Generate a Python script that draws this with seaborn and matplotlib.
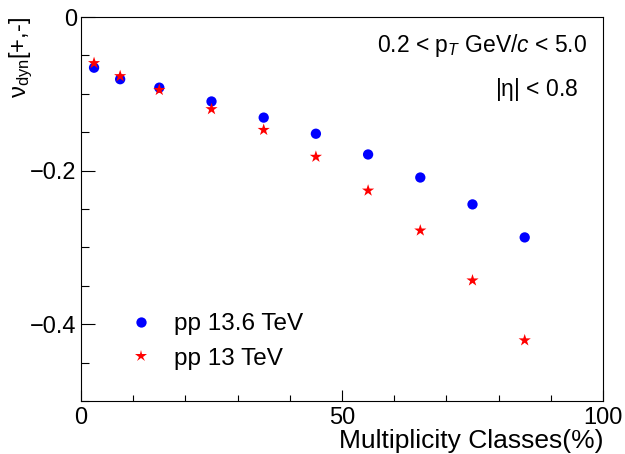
import numpy as np
import pandas as pd
import seaborn as sns
import matplotlib.pyplot as plt
from matplotlib.ticker import MultipleLocator

# multiplicity class centres (%) and nu_dyn[+,-] values
mult = [2.5, 7.5, 15, 25, 35, 45, 55, 65, 75, 85]
nu_pp136 = [-0.066, -0.081, -0.092, -0.110, -0.131, -0.152, -0.179, -0.209, -0.244, -0.287]
nu_pp13 = [-0.060, -0.077, -0.095, -0.120, -0.147, -0.182, -0.226, -0.278, -0.343, -0.421]
systems = ['pp 13.6 TeV', 'pp 13 TeV']

df = pd.concat([
    pd.DataFrame({'mult': mult, 'nu': nu_pp136, 'sys': systems[0]}),
    pd.DataFrame({'mult': mult, 'nu': nu_pp13, 'sys': systems[1]}),
])

sns.set_style("ticks")
plt.rcParams['font.family'] = ['Liberation Sans', 'DejaVu Sans']
plt.rcParams['mathtext.fontset'] = 'custom'
plt.rcParams['mathtext.rm'] = 'Liberation Sans'
plt.rcParams['mathtext.it'] = 'Liberation Sans:italic'
plt.rcParams['mathtext.default'] = 'regular'
plt.rcParams['text.color'] = 'black'
plt.rcParams['axes.labelcolor'] = 'black'

fig = plt.figure(figsize=(6.25, 4.54), dpi=100)
ax = fig.add_axes([81/625, 53/454, 522/625, 384/454])

sns.scatterplot(data=df, x='mult', y='nu', hue='sys', style='sys',
                palette={systems[0]: '#0000ff', systems[1]: '#ff0000'},
                markers={systems[0]: 'o', systems[1]: '*'},
                size='sys', sizes={systems[0]: 55, systems[1]: 85},
                edgecolor='none', linewidth=0, ax=ax)

ax.set_xlim(0, 100)
ax.set_ylim(-0.5, 0)
ax.xaxis.set_major_locator(MultipleLocator(50))
ax.xaxis.set_minor_locator(MultipleLocator(10))
ax.yaxis.set_major_locator(MultipleLocator(0.2))
ax.yaxis.set_minor_locator(MultipleLocator(0.05))
ax.yaxis.set_major_formatter(plt.FuncFormatter(lambda v, p: '0' if abs(v) < 1e-9 else f'{v:.1f}'.replace('-', '\u2212')))

ax.tick_params(which='both', direction='in', labelsize=17, top=False, right=False,
               colors='black', labelcolor='black')
ax.tick_params(axis='x', which='major', length=8, width=0.8, pad=4)
ax.tick_params(axis='x', which='minor', length=4, width=0.8)
ax.tick_params(axis='y', which='major', length=10, width=0.8, pad=3)
ax.tick_params(axis='y', which='minor', length=6, width=0.8)
for s in ax.spines.values():
    s.set_visible(True)
    s.set_linewidth(0.8)
    s.set_color('black')

ax.set_xlabel('Multiplicity Classes(%)', fontsize=19, loc='right', color='black')
ax.xaxis.set_label_coords(1.0, -0.073)
ax.set_ylabel(r'$\nu_{dyn}$[+,-]', fontsize=17, loc='top', color='black')
ax.yaxis.set_label_coords(-0.088, 1.0)

ax.text(0.969, 0.925, r'0.2 < p$_{\mathit{T}}$ GeV/$\mathit{c}$ < 5.0', transform=ax.transAxes,
        ha='right', va='center', fontsize=16.5, color='black')
ax.text(0.953, 0.812, r'|$\eta$| < 0.8', transform=ax.transAxes,
        ha='right', va='center', fontsize=16.5, color='black')

handles, lbls = ax.get_legend_handles_labels()
leg = ax.legend(handles, lbls, loc='center left', bbox_to_anchor=(0.05, 0.155), frameon=False,
                fontsize=17.5, handletextpad=0.35, labelspacing=0.5, borderaxespad=0)
for t in leg.get_texts():
    t.set_color('black')

fig.savefig('out.png', dpi=100)
